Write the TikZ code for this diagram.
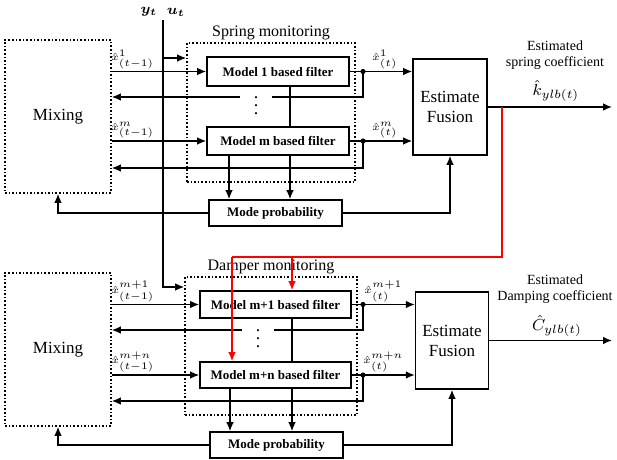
\documentclass[tikz,border=0pt]{standalone}
\usepackage{amsmath,amssymb}
\usepackage{fontspec}
\setmainfont{Liberation Serif}
\usetikzlibrary{positioning,arrows.meta}

\begin{document}
\begin{tikzpicture}[x=0.5pt,y=-0.5pt,b/.style={draw,thick,font=\bfseries\fontsize{6.5}{7}\selectfont,inner sep=0pt},d/.style={draw,thick,densely dotted,inner sep=0pt},fu/.style={draw,thick,align=center,font=\fontsize{8.5}{10}\selectfont,minimum width=37pt,minimum height=48pt},a/.style={-{Latex[length=4.5pt,width=3.8pt]},line width=0.7pt},ln/.style={line width=0.7pt},l/.style={font=\fontsize{5.5}{6}\selectfont,inner sep=1pt},t/.style={align=center,inner sep=0pt,font=\fontsize{7}{8.2}\selectfont},est/.style={inner sep=0pt,font=\fontsize{8.5}{9}\selectfont},r/.style={red,line width=0.7pt},dots/.style={inner sep=0pt,minimum width=16pt,font=\fontsize{9}{9}\selectfont}]
\useasboundingbox (0,0) rectangle (617,460);
% spring monitoring
\node[d,font=\fontsize{8.5}{10}\selectfont,minimum width=53pt,minimum height=76.5pt](mixS) at (58,116.5){Mixing};
\node[d,minimum width=84pt,minimum height=69.5pt,label={[font=\fontsize{8}{9}\selectfont,inner sep=1pt]above:Spring monitoring}](spr) at (271,112.5){};
\node[b,minimum width=71pt,minimum height=14.5pt](f1) at (278,71.5){Model 1 based filter};
\node[b,minimum width=71pt,minimum height=14pt](fm) at (278,141){Model m based filter};
\node[dots](dS) at (256,106){\raisebox{0pt}[9pt][0pt]{$\vdots$}};
\node[b,minimum width=66.5pt,minimum height=13pt](mpS) at (275.5,213){Mode probability};
\node[fu](fuS) at (450,107){Estimate\\Fusion};
\node[t](capS) at (555,55){Estimated\\spring coefficient};
\node[est](kS) at (556,91){$\hat{k}_{ylb(t)}$};
\coordinate (outS) at (612,107);
\draw[a](mixS.east|-f1)--node[l,above,pos=0.22]{$\hat{x}^{1}_{(t-1)}$}(f1.west);
\draw[a](mixS.east|-fm)--node[l,above,pos=0.22]{$\hat{x}^{m}_{(t-1)}$}(fm.west);
\draw[a](f1.east)--node[l,above,pos=0.56]{$\hat{x}^{1}_{(t)}$}(fuS.west|-f1);
\draw[a](fm.east)--node[l,above,pos=0.56]{$\hat{x}^{m}_{(t)}$}(fuS.west|-fm);
\fill(f1.east-|363,0)circle(1.3pt);\fill(fm.east-|363,0)circle(1.3pt);
\draw[ln](f1.east-|363,0)|-(dS.east|-0,97);\draw[a](dS.west|-0,97)--(mixS.east|-0,97);
\draw[a](fm.east-|363,0)|-(mixS.east|-0,168);
\draw[ln](f1.south-|290,0)--(fm.north-|290,0);
\draw[a](fm.south-|229,0)--(mpS.north-|229,0);\draw[a](fm.south-|290,0)--(mpS.north-|290,0);
\draw[a](mpS.west)-|(mixS.south);\draw[a](mpS.east)-|(fuS.south);\draw[a](fuS.east)--(outS);
% damper monitoring
\node[d,font=\fontsize{8.5}{10}\selectfont,minimum width=53pt,minimum height=76.5pt](mixD) at (58,349.5){Mixing};
\node[d,minimum width=86pt,minimum height=69pt,label={[font=\fontsize{8}{9}\selectfont,inner sep=1pt]above:Damper monitoring}](dmp) at (271,346){};
\node[b,minimum width=75.5pt,minimum height=13.5pt](f3) at (275.5,304.5){Model m+1 based filter};
\node[b,minimum width=75.5pt,minimum height=13pt](fn) at (275.5,375){Model m+n based filter};
\node[dots](dD) at (258,339){\raisebox{0pt}[9pt][0pt]{$\vdots$}};
\node[b,minimum width=66.5pt,minimum height=13pt](mpD) at (276.5,445){Mode probability};
\node[fu,minimum width=36pt,minimum height=48.5pt](fuD) at (452,340.5){Estimate\\Fusion};
\node[t](capD) at (555,289){Estimated\\Damping coefficient};
\node[est](cD) at (557,326){$\hat{C}_{ylb(t)}$};
\coordinate (outD) at (612,340.5);
\draw[a](mixD.east|-f3)--node[l,above,pos=0.24]{$\hat{x}^{m+1}_{(t-1)}$}(f3.west);
\draw[a](mixD.east|-fn)--node[l,above,pos=0.24]{$\hat{x}^{m+n}_{(t-1)}$}(fn.west);
\draw[a](f3.east)--node[l,above,pos=0.5]{$\hat{x}^{m+1}_{(t)}$}(fuD.west|-f3);
\draw[a](fn.east)--node[l,above,pos=0.5]{$\hat{x}^{m+n}_{(t)}$}(fuD.west|-fn);
\fill(f3.east-|363,0)circle(1.3pt);\fill(fn.east-|363,0)circle(1.3pt);
\draw[ln](f3.east-|363,0)|-(dD.east|-0,330);\draw[a](dD.west|-0,330)--(mixD.east|-0,330);
\draw[a](fn.east-|363,0)|-(mixD.east|-0,401);
\draw[ln](f3.south-|292,0)--(fn.north-|292,0);
\draw[a](fn.south-|230,0)--(mpD.north-|230,0);\draw[a](fn.south-|292,0)--(mpD.north-|292,0);
\draw[a](mpD.west)-|(mixD.south);\draw[a](mpD.east)-|(fuD.south);\draw[a](fuD.east)--(outD);
% measurements
\coordinate (bus) at (163,20);\coordinate (busS) at (163,58);\coordinate (busD) at (163,287);
\node[font=\fontsize{7}{8}\selectfont](yt) at (149,12){$\boldsymbol{y_t}$};\node[font=\fontsize{7}{8}\selectfont](ut) at (176,12){$\boldsymbol{u_t}$};
\draw[a](bus)--(busD)--(dmp.west|-busD);\draw[a](busS)--(spr.west|-busS);
% red link
\coordinate (rc) at (232,257);
\draw[r](fuS.east-|502,0)|-(rc);\draw[r,-{Latex[length=4.5pt,width=3.8pt]}](rc)--(fn.north-|rc);\draw[r,-{Latex[length=4.5pt,width=3.8pt]}](rc-|292,0)--(f3.north-|292,0);
\end{tikzpicture}
\end{document}
